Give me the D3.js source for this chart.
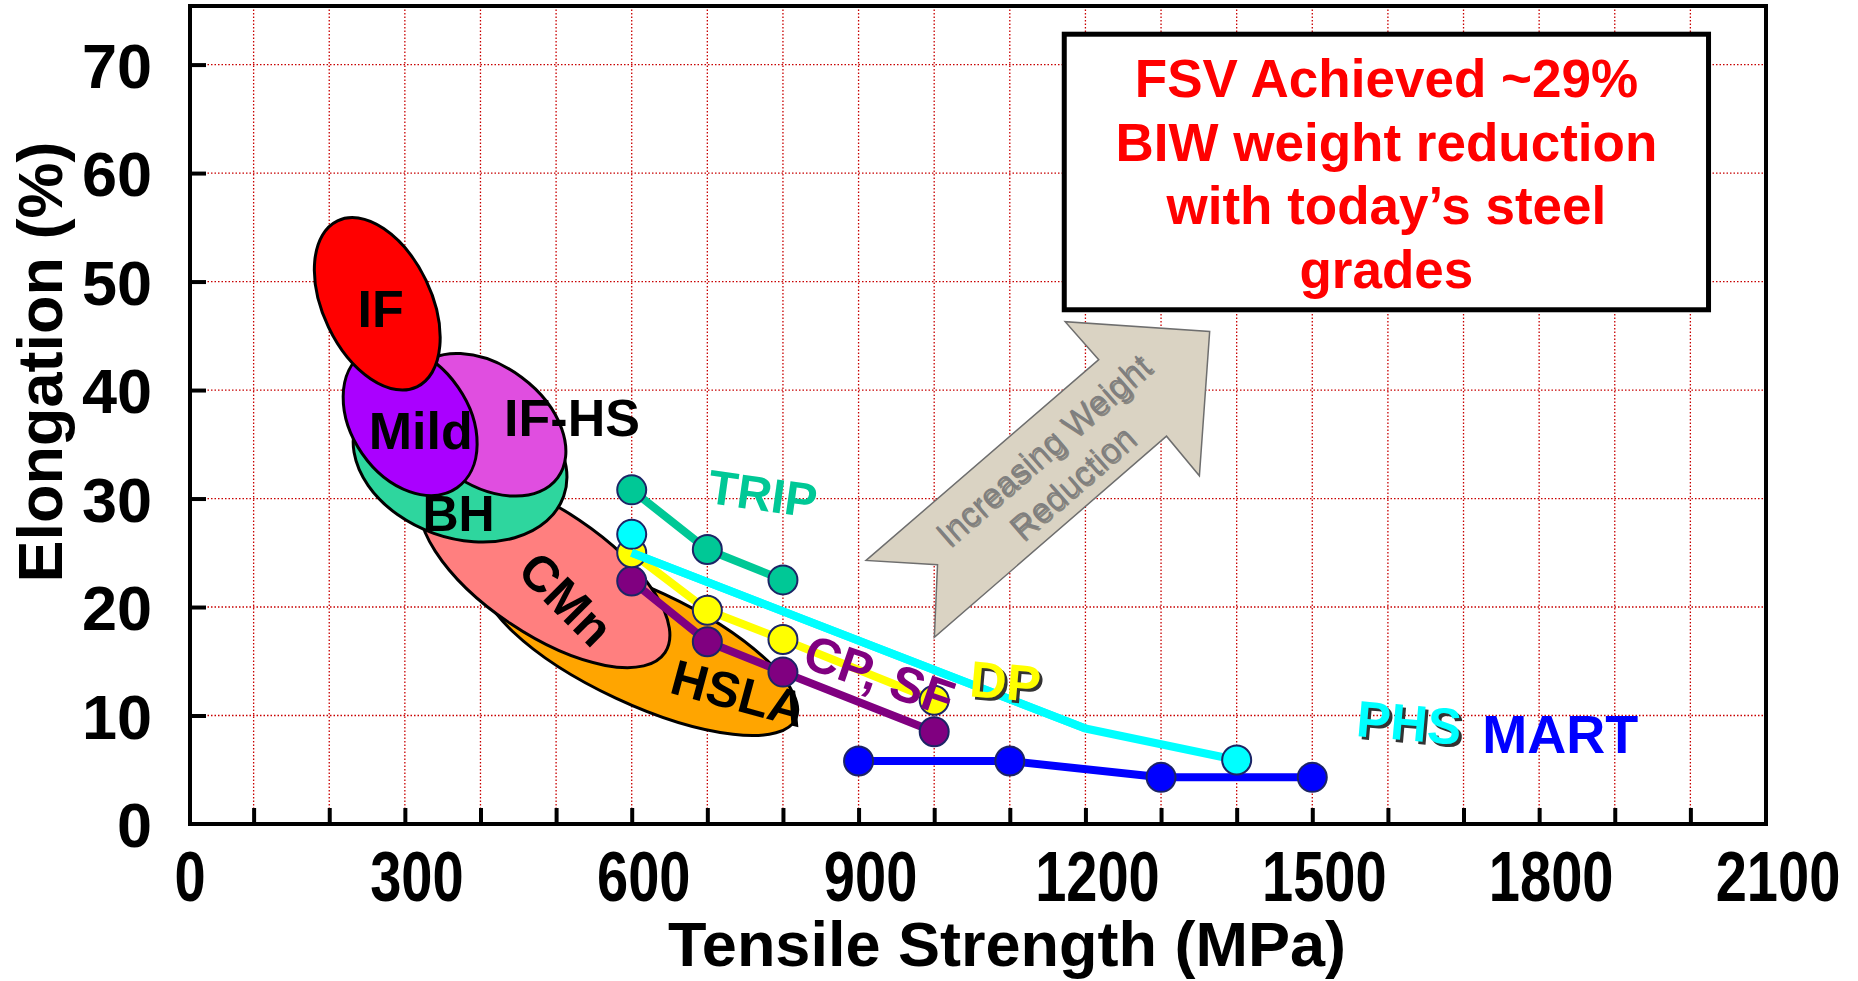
<!DOCTYPE html>
<html>
<head>
<meta charset="utf-8">
<script src="https://cdn.jsdelivr.net/npm/d3@7"></script>
<style>
html, body { margin: 0; padding: 0; background: #fff; }
svg { display: block; font-family: "Liberation Sans", Arial, sans-serif; }
</style>
</head>
<body>
<div id="chart"></div>
<script>
'use strict';

// tensile strength (MPa) / elongation (%)
var tripStrength = [600, 700, 800];
var tripElong = [30.8, 25.3, 22.5];
var dpStrength = [600, 700, 800, 1000];
var dpElong = [25.0, 19.7, 17.0, 11.4];
var cpsfStrength = [600, 700, 800, 1000];
var cpsfElong = [22.4, 16.8, 14.0, 8.5];
var phsStrength = [600, 1200, 1400];
var phsElong = [25.0, 8.8, 5.9];
// the PHS dots sit apart from the line start
var phsDotStrength = [600, 1400];
var phsDotElong = [26.7, 5.9];
var martStrength = [900, 1100, 1300, 1500];
var martElong = [5.8, 5.8, 4.3, 4.3];

// steel grade bands: both ends of the long axis and one end of the short axis (MPa, %)
var gradeNames = ["HSLA", "CMn", "BH", "IF-HS", "Mild", "IF"];
var gradeAxisFrom = [[405, 23.1], [326, 30.7], [236, 37.0], [313, 41.7], [245, 43.4], [211, 55.6]];
var gradeAxisTo = [[817, 9.7], [644, 15.8], [510, 30.2], [502, 31.9], [369, 31.0], [316, 40.3]];
var gradeSide = [[643, 21.2], [531, 28.0], [408, 40.4], [454, 41.2], [370, 40.3], [328, 50.1]];

var xTickLabels = [0, 300, 600, 900, 1200, 1500, 1800, 2100];
var yTickLabels = [0, 10, 20, 30, 40, 50, 60, 70];

var svgWidth = 1858;
var svgHeight = 981;
var plot = { left: 190, right: 1766, top: 6, bottom: 824 };

var x = d3.scaleLinear().domain([0, 2100]).range([plot.left - 12, plot.right]);
var y = d3.scaleLinear().domain([0, 75.4]).range([plot.bottom, plot.top]);

var svg = d3.select("#chart")
    .append("svg")
    .attr("width", svgWidth)
    .attr("height", svgHeight);

// dotted red grid
var gridColor = "#c80000";
svg.append("g").selectAll("line")
    .data(d3.range(100, 2100, 100))
    .enter().append("line")
    .attr("x1", function (d) { return x(d); })
    .attr("x2", function (d) { return x(d); })
    .attr("y1", plot.top)
    .attr("y2", plot.bottom)
    .style("stroke", gridColor)
    .style("stroke-width", 1.3)
    .style("stroke-dasharray", "1.5,2");

svg.append("g").selectAll("line")
    .data(d3.range(10, 80, 10))
    .enter().append("line")
    .attr("x1", plot.left)
    .attr("x2", plot.right)
    .attr("y1", function (d) { return y(d); })
    .attr("y2", function (d) { return y(d); })
    .style("stroke", gridColor)
    .style("stroke-width", 1.3)
    .style("stroke-dasharray", "1.5,2");

// frame
svg.append("rect")
    .attr("x", plot.left)
    .attr("y", plot.top)
    .attr("width", plot.right - plot.left)
    .attr("height", plot.bottom - plot.top)
    .style("fill", "none")
    .style("stroke", "#000")
    .style("stroke-width", 4);

// inward ticks
var xTicks = d3.axisBottom(x).tickValues(d3.range(100, 2100, 100)).tickSize(-16).tickFormat("");
svg.append("g")
    .attr("transform", "translate(0," + plot.bottom + ")")
    .call(xTicks)
    .call(function (g) { g.select(".domain").remove(); })
    .selectAll("line").style("stroke", "#000").style("stroke-width", 4);

var yTicks = d3.axisLeft(y).tickValues(d3.range(10, 80, 10)).tickSize(-16).tickFormat("");
svg.append("g")
    .attr("transform", "translate(" + plot.left + ",0)")
    .call(yTicks)
    .call(function (g) { g.select(".domain").remove(); })
    .selectAll("line").style("stroke", "#000").style("stroke-width", 4);

// tick labels (x labels are narrow in the original)
svg.append("g").selectAll("text")
    .data(xTickLabels)
    .enter().append("text")
    .attr("transform", function (d) { return "translate(" + (x(d) + 12) + ",901) scale(0.8,1)"; })
    .attr("text-anchor", "middle")
    .style("font-size", "70px")
    .style("font-weight", "bold")
    .text(function (d) { return d; });

svg.append("g").selectAll("text")
    .data(yTickLabels)
    .enter().append("text")
    .attr("x", 152)
    .attr("y", function (d) { return y(d) + 23; })
    .attr("text-anchor", "end")
    .style("font-size", "63px")
    .style("font-weight", "bold")
    .text(function (d) { return d; });

// axis titles
svg.append("text")
    .attr("transform", "translate(62,362) rotate(-90)")
    .attr("text-anchor", "middle")
    .style("font-size", "63px")
    .style("font-weight", "bold")
    .text("Elongation (%)");

svg.append("text")
    .attr("x", 1007)
    .attr("y", 966)
    .attr("text-anchor", "middle")
    .style("font-size", "63px")
    .style("font-weight", "bold")
    .text("Tensile Strength (MPa)");

// grade bands
var gradeColor = { "HSLA": "#ffa500", "CMn": "#ff7f7f", "BH": "#2ed69e", "IF-HS": "#e04ee0", "Mild": "#aa00ff", "IF": "#ff0000" };

var bands = gradeNames.map(function (name, i) {
    var x1 = x(gradeAxisFrom[i][0]), y1 = y(gradeAxisFrom[i][1]);
    var x2 = x(gradeAxisTo[i][0]), y2 = y(gradeAxisTo[i][1]);
    var cx = (x1 + x2) / 2, cy = (y1 + y2) / 2;
    return {
        name: name,
        cx: cx,
        cy: cy,
        a: Math.hypot(x2 - x1, y2 - y1) / 2,
        b: Math.hypot(x(gradeSide[i][0]) - cx, y(gradeSide[i][1]) - cy),
        angle: Math.atan2(y2 - y1, x2 - x1) * 180 / Math.PI
    };
});

svg.append("g").selectAll("ellipse")
    .data(bands)
    .enter().append("ellipse")
    .attr("transform", function (d) { return "translate(" + d.cx + "," + d.cy + ") rotate(" + d.angle + ")"; })
    .attr("rx", function (d) { return d.a; })
    .attr("ry", function (d) { return d.b; })
    .style("fill", function (d) { return gradeColor[d.name]; })
    .style("stroke", "#000")
    .style("stroke-width", 3);

// grade labels: [text, MPa, %, rotation, size]
var gradeLabels = [
    ["IF", 268, 45.8, 0, 52],
    ["Mild", 321, 34.6, 0, 52],
    ["IF-HS", 521, 35.8, 0, 52],
    ["BH", 371, 27.0, 0, 50],
    ["CMn", 497, 19.6, 45, 50],
    ["HSLA", 735, 10.5, 15, 50]
];
svg.append("g").selectAll("text")
    .data(gradeLabels)
    .enter().append("text")
    .attr("transform", function (d) { return "translate(" + x(d[1]) + "," + y(d[2]) + ") rotate(" + d[3] + ")"; })
    .attr("text-anchor", "middle")
    .style("font-size", function (d) { return d[4] + "px"; })
    .style("font-weight", "bold")
    .style("fill", "#000")
    .text(function (d) { return d[0]; });

// weight-reduction arrow (MPa, %)
var arrowOutline = [[909.9, 24.3], [1217.6, 42.8], [1173.2, 46.3], [1364.3, 45.4], [1350.7, 32.1],
    [1307.2, 35.75], [1000.2, 17.2], [1004.4, 23.9]];
svg.append("polygon")
    .attr("points", arrowOutline.map(function (p) { return x(p[0]) + "," + y(p[1]); }).join(" "))
    .style("fill", "#dad3c3")
    .style("stroke", "#6e6e6e")
    .style("stroke-width", 1.5);

var arrowText = [["Increasing Weight", 1144, 34.5], ["Reduction", 1182.5, 31.5]];
[["#4a4a4a", 2, 0.55], ["#7f7f7f", 0, 1]].forEach(function (s) {
    svg.append("g").selectAll("text")
        .data(arrowText)
        .enter().append("text")
        .attr("transform", function (d) { return "translate(" + (x(d[1]) + s[1]) + "," + (y(d[2]) + s[1]) + ") rotate(-41)"; })
        .attr("text-anchor", "middle")
        .attr("dy", "0.35em")
        .style("font-size", "34px")
        .style("fill", s[0])
        .style("opacity", s[2])
        .text(function (d) { return d[0]; });
});

// series
var series = [
    { name: "MART", xs: martStrength, ys: martElong, color: "#0000ff" },
    { name: "CP, SF", xs: cpsfStrength, ys: cpsfElong, color: "#800080" },
    { name: "DP", xs: dpStrength, ys: dpElong, color: "#ffff00" },
    { name: "PHS", xs: phsStrength, ys: phsElong, color: "#00ffff", dotXs: phsDotStrength, dotYs: phsDotElong },
    { name: "TRIP", xs: tripStrength, ys: tripElong, color: "#00c896" }
];

var line = d3.line()
    .x(function (d) { return x(d[0]); })
    .y(function (d) { return y(d[1]); });

series.forEach(function (s) {
    var pts = s.xs.map(function (v, i) { return [v, s.ys[i]]; });
    var dots = s.dotXs ? s.dotXs.map(function (v, i) { return [v, s.dotYs[i]]; }) : pts;
    svg.append("path")
        .attr("d", line(pts))
        .style("fill", "none")
        .style("stroke", s.color)
        .style("stroke-width", 8)
        .style("stroke-linejoin", "round");
    svg.append("g").selectAll("circle")
        .data(dots)
        .enter().append("circle")
        .attr("cx", function (d) { return x(d[0]); })
        .attr("cy", function (d) { return y(d[1]); })
        .attr("r", 14.5)
        .style("fill", s.color)
        .style("stroke", "#1c2466")
        .style("stroke-width", 2);
});

// the PHS line runs over the first DP dot
svg.append("path")
    .attr("d", line(phsStrength.slice(0, 2).map(function (v, i) { return [v, phsElong[i]]; })))
    .style("fill", "none")
    .style("stroke", "#00ffff")
    .style("stroke-width", 8);

// series labels: [text, MPa, %, rotation, size, colour, shadow]
var seriesLabels = [
    ["TRIP", 770, 28.9, 8, 48, "#00c896", false],
    ["CP, SF", 920, 12.2, 19, 50, "#800080", false],
    ["DP", 1092, 11.5, 5, 51, "#ffff00", true],
    ["PHS", 1626, 7.7, 5, 51, "#00ffff", true],
    ["MART", 1828, 6.5, 0, 54, "#0000ff", false]
];
seriesLabels.forEach(function (d) {
    if (d[6]) {
        svg.append("text")
            .attr("transform", "translate(" + (x(d[1]) + 3) + "," + (y(d[2]) + 3) + ") rotate(" + d[3] + ")")
            .attr("text-anchor", "middle")
            .style("font-size", d[4] + "px")
            .style("font-weight", "bold")
            .style("fill", "#333")
            .text(d[0]);
    }
    svg.append("text")
        .attr("transform", "translate(" + x(d[1]) + "," + y(d[2]) + ") rotate(" + d[3] + ")")
        .attr("text-anchor", "middle")
        .style("font-size", d[4] + "px")
        .style("font-weight", "bold")
        .style("fill", d[5])
        .text(d[0]);
});

// FSV call-out box
svg.append("rect")
    .attr("x", x(1172))
    .attr("y", y(72.8))
    .attr("width", x(2024) - x(1172))
    .attr("height", y(47.4) - y(72.8))
    .style("fill", "#fff")
    .style("stroke", "#000")
    .style("stroke-width", 5);

var boxLines = ["FSV Achieved ~29%", "BIW weight reduction", "with today\u2019s steel", "grades"];
svg.append("g").selectAll("text")
    .data(boxLines)
    .enter().append("text")
    .attr("x", (x(1172) + x(2024)) / 2)
    .attr("y", function (d, i) { return 97 + i * 63.5; })
    .attr("text-anchor", "middle")
    .style("font-size", "53px")
    .style("font-weight", "bold")
    .style("fill", "#ff0000")
    .text(function (d) { return d; });
</script>
</body>
</html>
